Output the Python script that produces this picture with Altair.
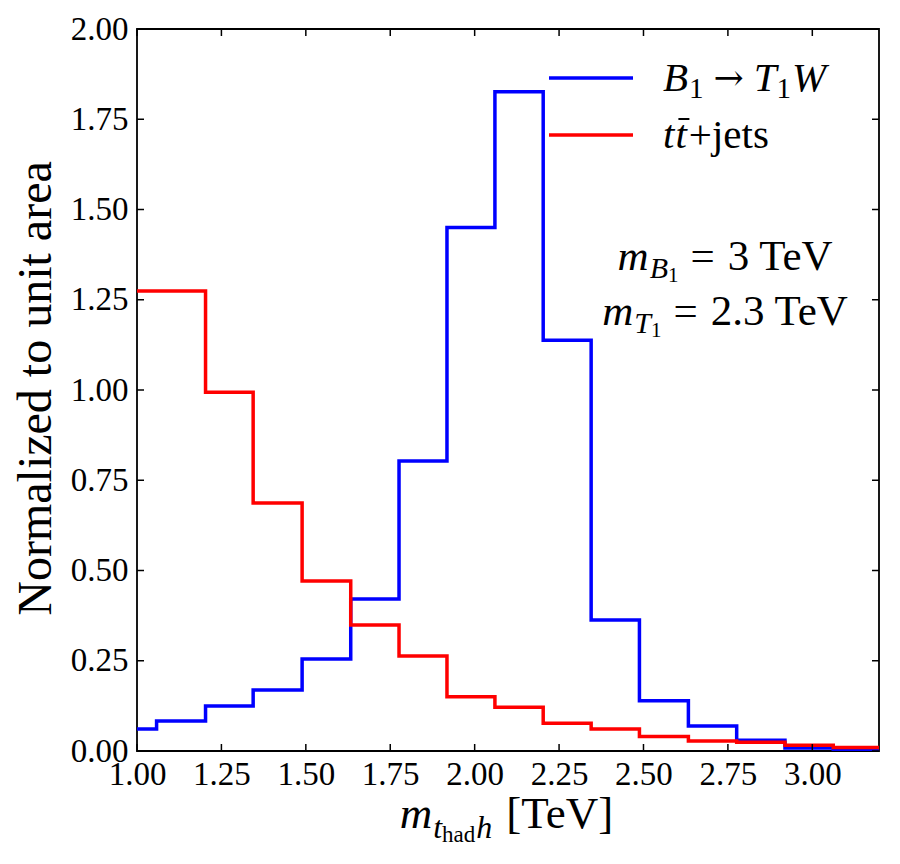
import altair as alt
import pandas as pd

# ---------------- data ----------------
EDGES = [0.915, 1.058, 1.203, 1.344, 1.489, 1.633, 1.776, 1.918, 2.060,
         2.203, 2.345, 2.488, 2.633, 2.776, 2.919, 3.062, 3.205]
SIGNAL = [0.061, 0.083, 0.125, 0.169, 0.255, 0.421, 0.803, 1.450, 1.826,
          1.138, 0.363, 0.139, 0.069, 0.030, 0.008, 0.003]
BACKGROUND = [1.274, 1.274, 0.994, 0.687, 0.471, 0.349, 0.263, 0.150, 0.121,
              0.077, 0.061, 0.040, 0.028, 0.024, 0.016, 0.010]
X_TICKS = [1.00, 1.25, 1.50, 1.75, 2.00, 2.25, 2.50, 2.75, 3.00]
Y_TICKS = [0.00, 0.25, 0.50, 0.75, 1.00, 1.25, 1.50, 1.75, 2.00]
X_DOMAIN = [1.0, 3.1975]
Y_DOMAIN = [0.0, 2.0]

FONT = "Liberation Serif"
W, H = 742, 722
BLUE, RED = "#0000ff", "#ff0000"

# approximate advance widths (Times metrics, per em) for text layout
REG = {' ': .25, '+': .564, '=': .564, '.': .25, 'T': .611, 'e': .444, 'V': .722,
       '[': .333, ']': .333, 'h': .5, 'a': .444, 'd': .5, 'j': .278, 't': .278,
       's': .389, '\u2192': .84}
ITA = {'m': .722, 'B': .611, 'T': .556, 'W': .833, 't': .278, 'h': .5}


def text_width(text, size, italic):
    table = ITA if italic else REG
    return sum(table.get(c, 0.5) for c in text) * size


one = pd.DataFrame({"a": [0]})


def text_mark(text, x, y, size, italic=False, align="left", font=FONT):
    return alt.Chart(one).mark_text(
        text=text, font=font, fontSize=size,
        fontStyle="italic" if italic else "normal", align=align,
        baseline="alphabetic", color="black",
    ).encode(x=alt.value(x), y=alt.value(y))


def rich(segs, x, y, align="left"):
    total = sum(g + text_width(t, s, i) for t, s, i, dy, g in segs)
    cur = x if align == "left" else (x - total / 2 if align == "center" else x - total)
    layers, pos = [], []
    for t, s, i, dy, g in segs:
        cur += g
        font = "DejaVu Serif" if t == "\u2192" else FONT
        layers.append(text_mark(t, cur, y + dy, s, i, font=font))
        pos.append(cur)
        cur += text_width(t, s, i)
    return layers, pos


def step_df(vals):
    return pd.DataFrame({"x": EDGES, "y": list(vals) + [vals[-1]]})


xscale = alt.Scale(domain=X_DOMAIN, nice=False, zero=False)
yscale = alt.Scale(domain=Y_DOMAIN, nice=False, zero=False)

x_axis = alt.Axis(values=X_TICKS, format=".2f", ticks=False, domain=False, grid=False,
                  labelFont=FONT, labelFontSize=33, labelColor="black",
                  labelBaseline="alphabetic", labelPadding=33, labelFlush=False,
                  labelOverlap=False, title=None)
y_axis = alt.Axis(values=Y_TICKS, format=".2f", ticks=False, domain=False, grid=False,
                  labelFont=FONT, labelFontSize=33, labelColor="black",
                  labelPadding=9, labelOverlap=False,
                  title="Normalized to unit area", titleFont=FONT, titleFontSize=48,
                  titleFontWeight="normal", titleColor="black", titleAngle=270,
                  titleBaseline="alphabetic", titleAlign="center",
                  titleX=-87, titleY=359)

signal = alt.Chart(step_df(SIGNAL)).mark_line(
    interpolate="step-after", color=BLUE, strokeWidth=3.5, clip=True, strokeJoin="miter"
).encode(x=alt.X("x:Q", scale=xscale, axis=x_axis),
         y=alt.Y("y:Q", scale=yscale, axis=y_axis))

background = alt.Chart(step_df(BACKGROUND)).mark_line(
    interpolate="step-after", color=RED, strokeWidth=3.5, clip=True, strokeJoin="miter"
).encode(x=alt.X("x:Q", scale=xscale, axis=x_axis),
         y=alt.Y("y:Q", scale=yscale, axis=y_axis))

# inward ticks on all four sides
xt = pd.DataFrame({"x": X_TICKS})
yt = pd.DataFrame({"y": Y_TICKS})
TL = 7
tick_layers = [
    alt.Chart(xt).mark_rule(color="black", strokeWidth=1.5).encode(
        x=alt.X("x:Q", scale=xscale, axis=x_axis), y=alt.value(H), y2=alt.value(H - TL)),
    alt.Chart(xt).mark_rule(color="black", strokeWidth=1.5).encode(
        x=alt.X("x:Q", scale=xscale, axis=x_axis), y=alt.value(0), y2=alt.value(TL)),
    alt.Chart(yt).mark_rule(color="black", strokeWidth=1.5).encode(
        y=alt.Y("y:Q", scale=yscale, axis=y_axis), x=alt.value(0), x2=alt.value(TL)),
    alt.Chart(yt).mark_rule(color="black", strokeWidth=1.5).encode(
        y=alt.Y("y:Q", scale=yscale, axis=y_axis), x=alt.value(W), x2=alt.value(W - TL)),
]

# legend
leg = [
    alt.Chart(one).mark_rule(color=BLUE, strokeWidth=3.5).encode(
        x=alt.value(412), x2=alt.value(496), y=alt.value(49)),
    alt.Chart(one).mark_rule(color=RED, strokeWidth=3.5).encode(
        x=alt.value(412), x2=alt.value(496), y=alt.value(106)),
]
l1, _ = rich([("B", 41, True, 0, 0), ("1", 29, False, 7, 1), ("\u2192", 36, False, -1, 10),
              ("T", 41, True, 0, 10), ("1", 29, False, 7, 0), ("W", 41, True, 0, 1)],
             526, 62)
l2, p2 = rich([("t", 41, True, 0, 0), ("t", 41, True, 0, 1), ("+jets", 41, False, 0, 2)],
              526, 119)
macron = alt.Chart(one).mark_rule(color="black", strokeWidth=2).encode(
    x=alt.value(p2[1] + 3), x2=alt.value(p2[1] + 14), y=alt.value(90))

# annotation
a1, _ = rich([("m", 43, True, 0, 0), ("B", 30, True, 8, 1), ("1", 21, False, 12, 0),
              ("=", 43, False, 0, 12), ("3 TeV", 43, False, 0, 13)], 590, 241, "center")
a2, _ = rich([("m", 43, True, 0, 0), ("T", 30, True, 8, 1), ("1", 21, False, 12, 0),
              ("=", 43, False, 0, 12), ("2.3 TeV", 43, False, 0, 13)], 590, 296, "center")

# x axis title  m_{t_had h} [TeV]
xl, _ = rich([("m", 45, True, 0, 0), ("t", 32, True, 10, 1), ("had", 23, False, 14, 0),
              ("h", 32, True, 10, 1), ("[TeV]", 45, False, 0, 14)], 371, 799, "center")

chart = alt.layer(
    signal, background, *tick_layers, *leg, *l1, *l2, macron, *a1, *a2, *xl
).properties(
    width=W, height=H,
    padding={"left": 129, "top": 21, "right": 12, "bottom": 104},
    autosize=alt.AutoSizeParams(type="none"),
    background="white",
).configure_view(stroke="black", strokeWidth=1.8)

chart.save("out.html", embed_options={"renderer": "svg", "actions": False})
